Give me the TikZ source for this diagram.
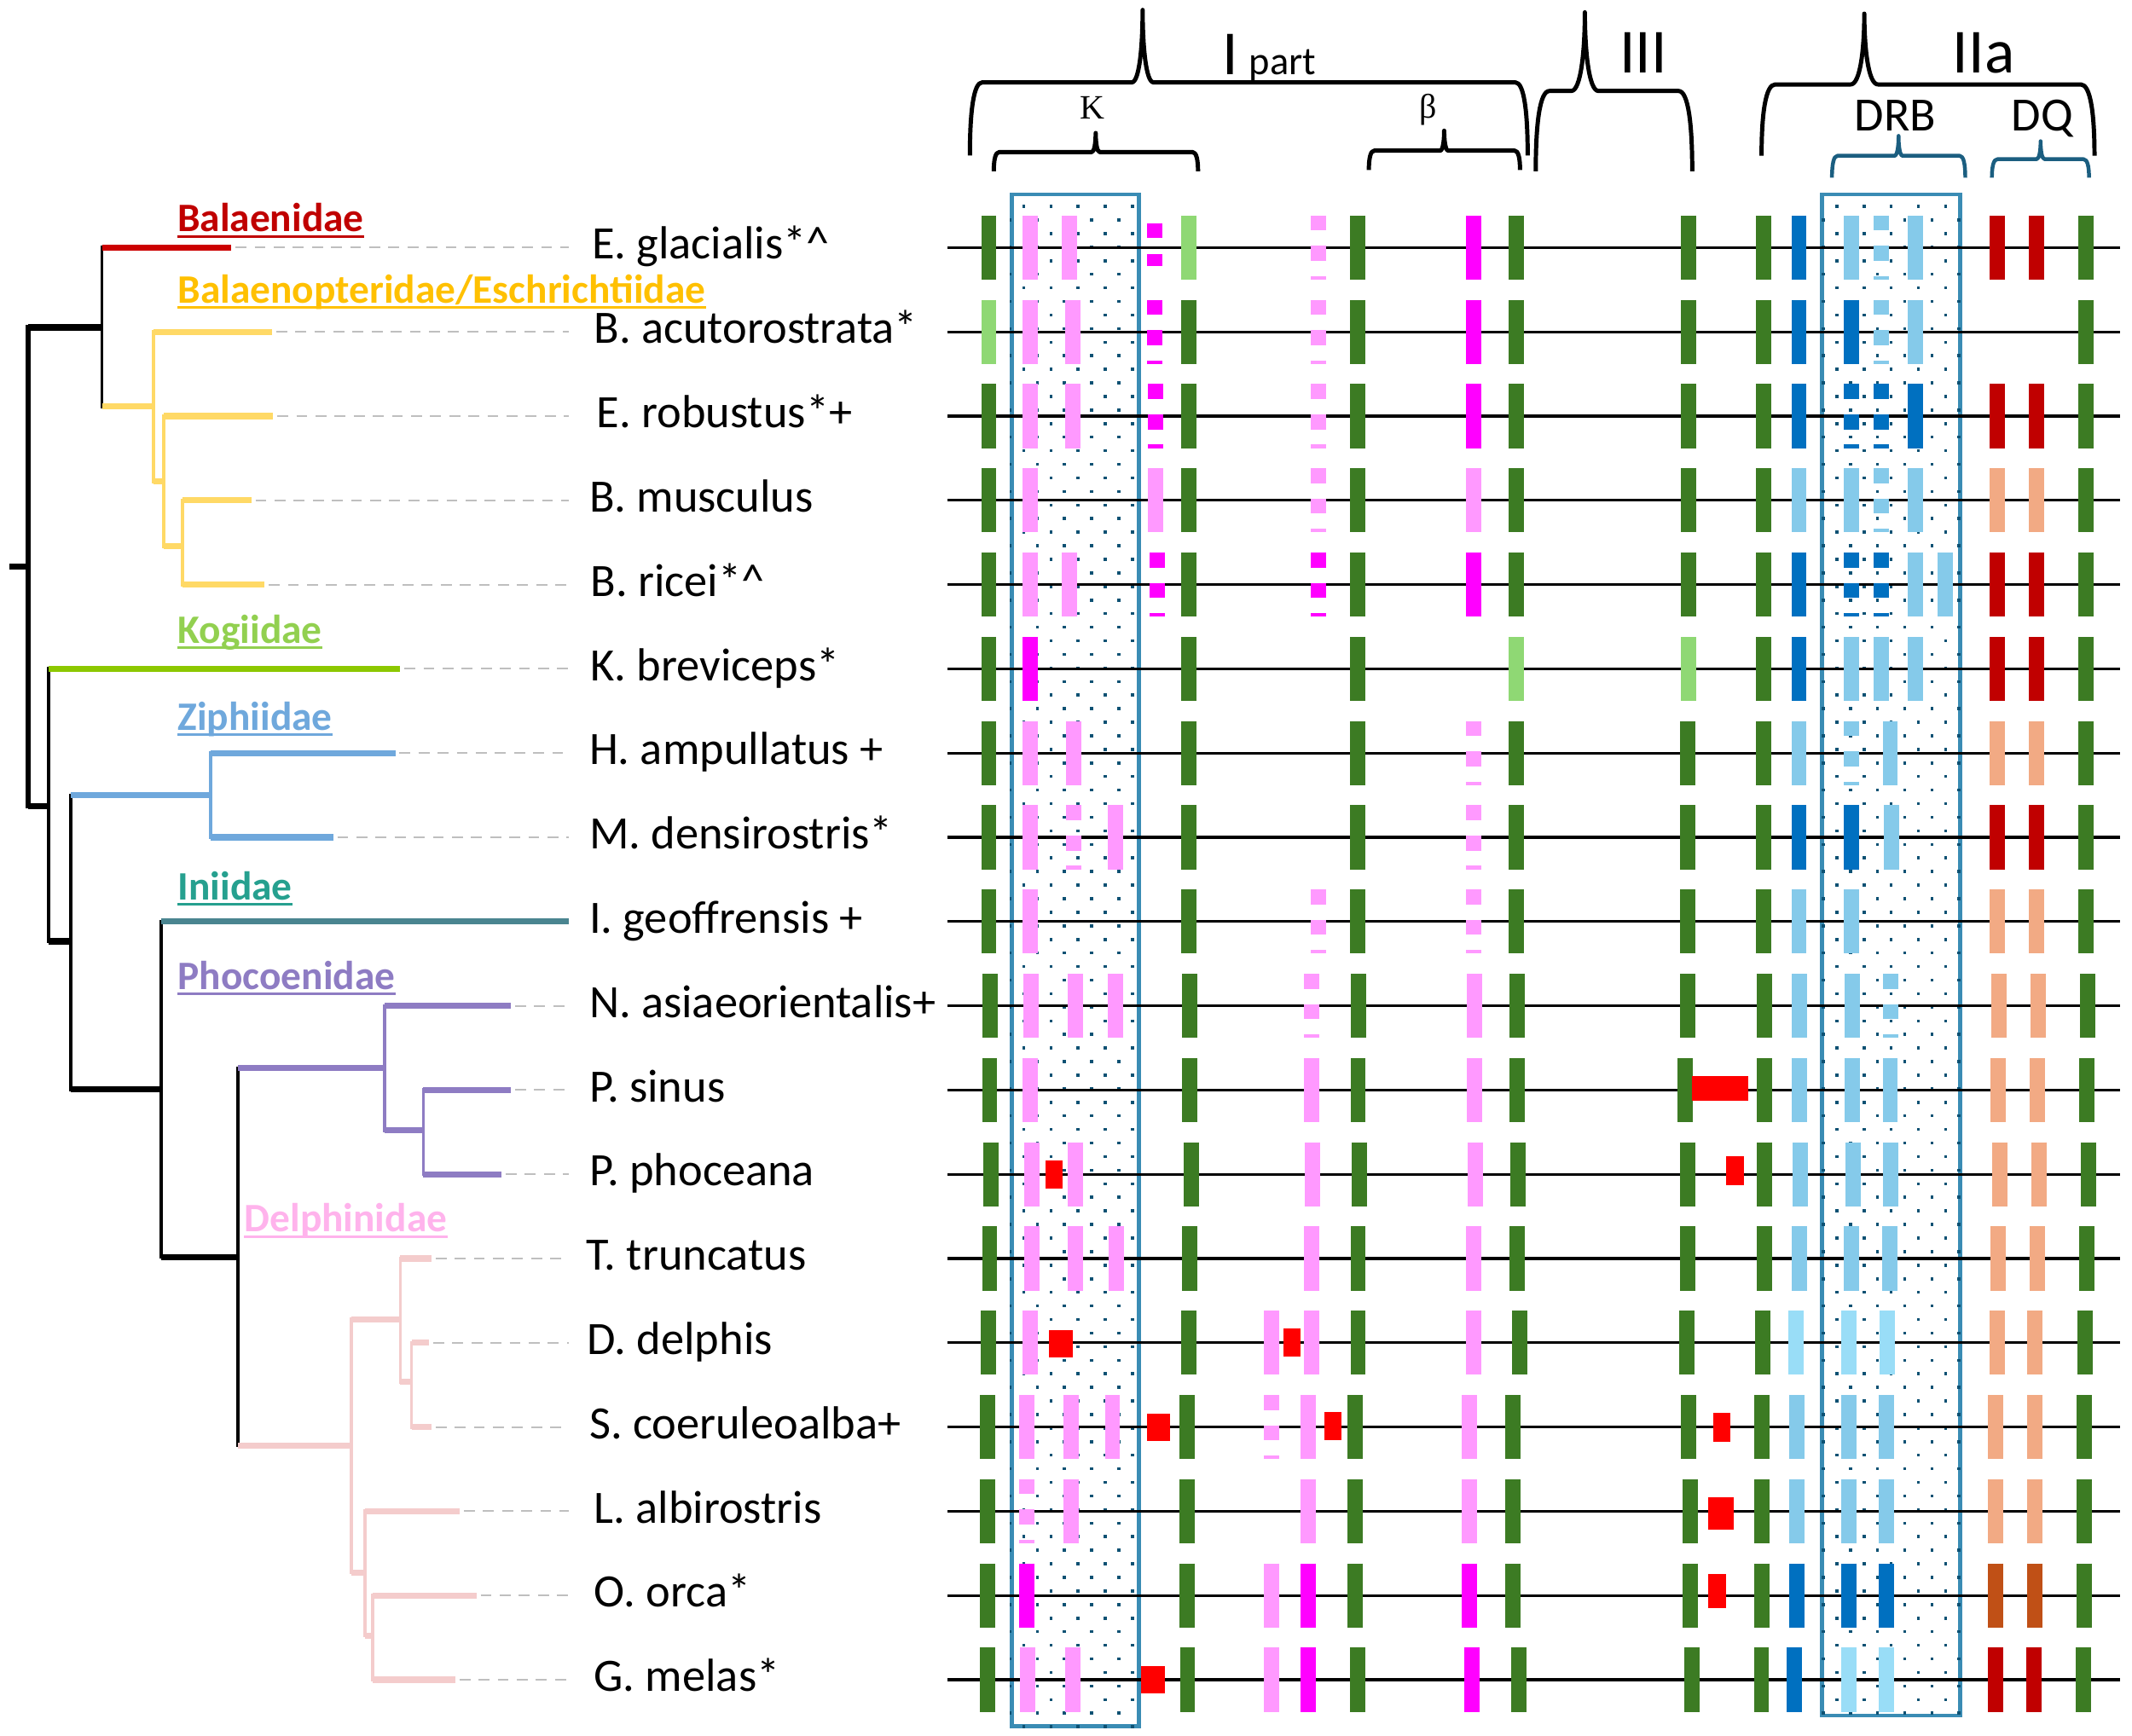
\documentclass[tikz,border=0pt]{standalone}
\usepackage{fontspec}
\setmainfont{Carlito}
\newfontfamily\greekfont{Liberation Serif}
\usetikzlibrary{calc}

% exon colours
\definecolor{colG}{HTML}{3C7B23}
\definecolor{colLG}{HTML}{8FD874}
\definecolor{colP}{HTML}{FF99FF}
\definecolor{colM}{HTML}{FF00FF}
\definecolor{colB}{HTML}{0070C0}
\definecolor{colLB}{HTML}{85CAEA}
\definecolor{colLBB}{HTML}{99DDF7}
\definecolor{colR}{HTML}{C00000}
\definecolor{colS}{HTML}{F2AA84}
\definecolor{colO}{HTML}{C05016}
\definecolor{colMut}{HTML}{FF0000}
\definecolor{colBox}{HTML}{3A8CB4}
\definecolor{colDot}{HTML}{0D5173}
\definecolor{colDRB}{HTML}{1B5E80}
% tree colours
\definecolor{brBal}{HTML}{CC0000}
\definecolor{brBalp}{HTML}{FFD966}
\definecolor{brKog}{HTML}{8CC800}
\definecolor{brZiph}{HTML}{6FA8DC}
\definecolor{brIni}{HTML}{4A8590}
\definecolor{brPhoc}{HTML}{8E7CC3}
\definecolor{brDelph}{HTML}{F4CCCC}
\definecolor{labBal}{HTML}{C00000}
\definecolor{labBalp}{HTML}{FFC000}
\definecolor{labKog}{HTML}{92D050}
\definecolor{labZiph}{HTML}{6FA8DC}
\definecolor{labIni}{HTML}{26A08F}
\definecolor{labPhoc}{HTML}{8E7CC3}
\definecolor{labDelph}{HTML}{FFB3EC}

\newcommand{\clade}[6]{%
  \draw[#4] (#1 |- #2) -- (#1 |- #3);
  \draw[#5] (#1 |- #2) -- (#2);
  \draw[#6] (#1 |- #3) -- (#3);
}
\newcommand{\famlabel}[5]{%
  \node[fam, text=#4] (#1) at (#2,#3) {#5};
  \draw[#4, line width=1pt] ([yshift=-1.75pt]#1.base west) -- ([yshift=-1.75pt]#1.base east);
}
% xl, xtip, xr, ybottom, ymid, ytip, leg, cusp, style
\newcommand{\genebrace}[9]{%
  \draw[#9] (#1,#4) .. controls (#1,{#5+0.4*(#4-#5)}) and ({#1+0.3*#7},#5) .. ({#1+#7},#5)
    -- ({#2-#8},#5) .. controls ({#2-0.3*#8},#5) and (#2,{#5-0.5*(#5-#6)}) .. (#2,#6)
    .. controls (#2,{#5-0.5*(#5-#6)}) and ({#2+0.3*#8},#5) .. ({#2+#8},#5)
    -- ({#3-#7},#5) .. controls ({#3-0.3*#7},#5) and (#3,{#5+0.4*(#4-#5)}) .. (#3,#4);
}

\tikzset{
  hbr/.style={line width=2.2pt},
  vbr/.style={line width=1.2pt, line cap=rect},
  leader/.style={draw=black!25, line width=0.6pt, dash pattern=on 4pt off 3pt},
  fam/.style={anchor=base west, inner sep=0pt, font=\bfseries\fontsize{14.8}{14.8}\selectfont},
  sp/.style={anchor=base west, inner sep=0pt, font=\fontsize{17}{17}\selectfont},
  hdr/.style={inner sep=0pt, font=\fontsize{23}{23}\selectfont},
  sub/.style={inner sep=0pt, anchor=base, font=\fontsize{17.5}{17.5}\selectfont},
  grk/.style={inner sep=0pt, anchor=base, font=\greekfont\fontsize{12.5}{12.5}\selectfont},
  brace/.style={line width=1.55pt, line join=round},
  rowline/.style={line width=1pt, draw=black},
  boxline/.style={line width=1.5pt, draw=colBox},
  boxdot/.style={fill=colDot},
  mut/.style={fill=colMut},
  exon/.style={line width=5.6pt},
  exG/.style={exon, draw=colG},
  exLG/.style={exon, draw=colLG},
  exP/.style={exon, draw=colP},
  exPd/.style={exon, draw=colP, dash pattern=on 5.5pt off 5.6pt},
  exM/.style={exon, draw=colM},
  exMd/.style={exon, draw=colM, dash pattern=on 5.5pt off 5.6pt},
  exMdA/.style={exon, draw=colM, dash pattern=on 0pt off 2.75pt on 5.5pt off 5.8pt on 4.3pt off 20pt},
  exB/.style={exon, draw=colB},
  exBd/.style={exon, draw=colB, dash pattern=on 5.5pt off 5.6pt},
  exLB/.style={exon, draw=colLB},
  exLBd/.style={exon, draw=colLB, dash pattern=on 5.5pt off 5.6pt},
  exLBB/.style={exon, draw=colLBB},
  exR/.style={exon, draw=colR},
  exS/.style={exon, draw=colS},
  exO/.style={exon, draw=colO},
}

\begin{document}
\begin{tikzpicture}[x=0.5pt, y=-0.5pt]
  \useasboundingbox (0,0) rectangle (1562.5,1272.5);

  % ---- tree: inner nodes
  \coordinate (rootStub) at (7,415.5);
  \coordinate (root) at (20.6,415.5);
  \coordinate (nMyst) at (74.7,240);
  \coordinate (nBalp) at (112.3,298);
  \coordinate (nBalp2) at (120,353);
  \coordinate (nBalp3) at (134,400.5);
  \coordinate (nOdon) at (35.8,591);
  \coordinate (nOd2) at (51.8,690);
  \coordinate (nZiph) at (154.5,583);
  \coordinate (nOd3) at (118.3,798.5);
  \coordinate (nOd4) at (174.2,921.5);
  \coordinate (nPhoc) at (282,782.8);
  \coordinate (nPhoc2) at (310.3,828.6);
  \coordinate (nDelph) at (257.6,1059.5);
  \coordinate (nDel2) at (293.4,967);
  \coordinate (nDel3) at (301.6,1013);
  \coordinate (nDel4) at (267.3,1152.8);
  \coordinate (nDel5) at (273.2,1199);
  \coordinate (leadEnd) at (417,0);
  % leaves
  \foreach \nm/\x/\i in {Leglac/169.6/0, Lbacu/199.4/1, Lerob/200.3/2, Lbmus/184.3/3,
      Lbric/194/4, Lkbre/293.4/5, Lhamp/289.7/6, Lmden/244.3/7, Ligeo/417/8,
      Lnasi/374.5/9, Lpsin/374.5/10, Lppho/367.6/11, Lttru/316.3/12, Lddel/314.5/13,
      Lscoe/316.3/14, Llalb/337/15, Loorc/349.3/16, Lgmel/333.7/17}
    \coordinate (\nm) at (\x,{181.5+61.75*\i});

  % ---- tree: branches
  \draw[hbr] (rootStub) -- (root);
  \clade{root}{nMyst}{nOdon}{vbr,line width=1.75pt}{hbr}{hbr}
  \clade{nMyst}{Leglac}{nBalp}{vbr}{hbr,brBal}{hbr,brBalp}
  \clade{nBalp}{Lbacu}{nBalp2}{vbr,brBalp}{hbr,brBalp}{hbr,brBalp}
  \clade{nBalp2}{Lerob}{nBalp3}{vbr,brBalp}{hbr,brBalp}{hbr,brBalp}
  \clade{nBalp3}{Lbmus}{Lbric}{vbr,brBalp}{hbr,brBalp}{hbr,brBalp}
  \clade{nOdon}{Lkbre}{nOd2}{vbr}{hbr,brKog}{hbr}
  \clade{nOd2}{nZiph}{nOd3}{vbr}{hbr,brZiph}{hbr}
  \clade{nZiph}{Lhamp}{Lmden}{vbr,brZiph}{hbr,brZiph}{hbr,brZiph}
  \clade{nOd3}{Ligeo}{nOd4}{vbr}{hbr,brIni}{hbr}
  \clade{nOd4}{nPhoc}{nDelph}{vbr}{hbr,brPhoc}{hbr,brDelph}
  \clade{nPhoc}{Lnasi}{nPhoc2}{vbr,brPhoc}{hbr,brPhoc}{hbr,brPhoc}
  \clade{nPhoc2}{Lpsin}{Lppho}{vbr,brPhoc}{hbr,brPhoc}{hbr,brPhoc}
  \clade{nDelph}{nDel2}{nDel4}{vbr,brDelph}{hbr,brDelph}{hbr,brDelph}
  \clade{nDel2}{Lttru}{nDel3}{vbr,brDelph}{hbr,brDelph}{hbr,brDelph}
  \clade{nDel3}{Lddel}{Lscoe}{vbr,brDelph}{hbr,brDelph}{hbr,brDelph}
  \clade{nDel4}{Llalb}{nDel5}{vbr,brDelph}{hbr,brDelph}{hbr,brDelph}
  \clade{nDel5}{Loorc}{Lgmel}{vbr,brDelph}{hbr,brDelph}{hbr,brDelph}

  % leaders to the names
  \foreach \nm in {Leglac,Lbacu,Lerob,Lbmus,Lbric,Lkbre,Lhamp,Lmden,Lnasi,
      Lpsin,Lppho,Lttru,Lddel,Lscoe,Llalb,Loorc,Lgmel}
    \draw[leader] ([xshift=1.5pt]\nm) -- (leadEnd |- \nm);

  % family labels
  \famlabel{fBal}{129.7}{169.8}{labBal}{Balaenidae}
  \famlabel{fBalp}{130}{222}{labBalp}{Balaenopteridae/Eschrichtiidae}
  \famlabel{fKog}{130}{471.3}{labKog}{Kogiidae}
  \famlabel{fZiph}{130}{535}{labZiph}{Ziphiidae}
  \famlabel{fIni}{130}{659.5}{labIni}{Iniidae}
  \famlabel{fPhoc}{130}{725}{labPhoc}{Phocoenidae}
  \famlabel{fDelph}{178.8}{903}{labDelph}{Delphinidae}

  % species names
  \foreach \i/\x/\nm/\txt in {0/433.5/sEglac/{E. glacialis*\textasciicircum},
      1/435/sBacu/{B. acutorostrata*}, 2/437/sErob/{E. robustus*+},
      3/431.5/sBmus/{B. musculus}, 4/432.5/sBric/{B. ricei*\textasciicircum},
      5/432.5/sKbre/{K. breviceps*}, 6/431.5/sHamp/{H. ampullatus +},
      7/431.5/sMden/{M. densirostris*}, 8/431.5/sIgeo/{I. geoffrensis +},
      9/431.5/sNasi/{N. asiaeorientalis+}, 10/431.5/sPsin/{P. sinus},
      11/431.5/sPpho/{P. phoceana}, 12/429.5/sTtru/{T. truncatus},
      13/430/sDdel/{D. delphis}, 14/431.5/sScoe/{S. coeruleoalba+},
      15/435/sLalb/{L. albirostris}, 16/435/sOorc/{O. orca*}, 17/435/sGmel/{G. melas*}}
    \node[sp] (\nm) at (\x,{181.5+61.75*\i+8.5}) {\txt};

  % ---- gene structures
  \begin{scope}
    % headers
    \genebrace{710.8}{837.4}{1119.6}{114}{60.4}{7.3}{9}{8}{brace}
    \genebrace{1125.5}{1161.5}{1240.2}{125.6}{66.7}{9}{10}{10}{brace}
    \genebrace{1291}{1366.3}{1535}{114.2}{61.9}{10}{10}{10}{brace}
    \genebrace{728.3}{803}{878}{125.6}{111.5}{97.5}{4}{3}{brace}
    \genebrace{1003.2}{1058.4}{1114}{124.6}{110.4}{95.8}{4}{3}{brace}
    \genebrace{1342.6}{1391.4}{1440.3}{130.2}{114.2}{99.6}{4}{3}{brace,draw=colDRB,line width=1.4pt}
    \genebrace{1459.8}{1495.5}{1531}{130.2}{116.7}{103.5}{4}{3}{brace,draw=colDRB,line width=1.4pt}
    \node[hdr, anchor=base west] (hdI) at (895.5,55) {I\hspace{4pt}{\fontsize{14.5}{14.5}\selectfont part}};
    \node[hdr, anchor=base] (hdIII) at (1204.3,53.7) {III};
    \node[hdr, anchor=base] (hdIIa) at (1453.8,53.7) {IIa};
    \node[sub] (hdDRB) at (1389,95.8) {DRB};
    \node[sub] (hdDQ) at (1496.8,95.8) {DQ};
    \node[grk] (hdK) at (800.7,87.5) {Κ};
    \node[grk] (hdB) at (1046.6,86.5) {β};

    % dotted boxes
    \draw[boxline] (741.5,142.5) rectangle (834.5,1265.5);
    \draw[boxline] (1335.5,142.5) rectangle (1436.5,1257.5);
    \begin{scope}
      \clip (740,141) rectangle (836,1267);
      \foreach \j in {0,...,112} {
        \pgfmathsetmacro\dy{151.3+9.95*\j}
        \pgfmathsetmacro\dx{750.3-10*mod(\j,2)}
        \foreach \i in {0,...,4}
          \fill[boxdot] ({\dx+19.9*\i-1.1},{\dy-1.1}) rectangle ++(2.2,2.2);
      }
    \end{scope}
    \begin{scope}
      \clip (1334,141) rectangle (1438,1259);
      \foreach \j in {0,...,111} {
        \pgfmathsetmacro\dy{151.3+9.95*\j}
        \pgfmathsetmacro\dx{1346.2-10*mod(\j,2)}
        \foreach \i in {0,...,5}
          \fill[boxdot] ({\dx+19.9*\i-1.1},{\dy-1.1}) rectangle ++(2.2,2.2);
      }
    \end{scope}

    % rows
    \foreach \r in {0,...,17}
      \draw[rowline] (694.5,{181.5+61.75*\r}) -- (1554,{181.5+61.75*\r});

    \foreach \r/\lst in {
      0/{724.7/exG,755/exP,784/exP,846.5/exMdA,871.5/exLG,966/exPd,994.7/exG,1079.7/exM,1111.5/exG,1237.4/exG,1292.4/exG,1318.4/exB,1356.7/exLB,1378.5/exLBd,1403.6/exLB,1464/exR,1492.5/exR,1529/exG},
      1/{724.7/exLG,755/exP,786/exP,846.5/exMd,871.5/exG,966/exPd,994.7/exG,1079.7/exM,1111.5/exG,1237.4/exG,1292.4/exG,1318.4/exB,1356.7/exB,1378.5/exLBd,1403.6/exLB,1529/exG},
      2/{724.7/exG,755/exP,786/exP,847/exMd,871.5/exG,966/exPd,994.7/exG,1079.7/exM,1111.5/exG,1237.4/exG,1292.4/exG,1318.4/exB,1356.7/exBd,1378.5/exBd,1403.6/exB,1464/exR,1492.5/exR,1529/exG},
      3/{724.7/exG,755/exP,847/exP,871.5/exG,966/exPd,994.7/exG,1079.7/exP,1111.5/exG,1237.4/exG,1292.4/exG,1318.4/exLB,1356.7/exLB,1378.5/exLBd,1403.6/exLB,1464/exS,1492.5/exS,1529/exG},
      4/{724.7/exG,755/exP,784/exP,848/exMd,871.5/exG,966/exMd,994.7/exG,1079.7/exM,1111.5/exG,1237.4/exG,1292.4/exG,1318.4/exB,1356.7/exBd,1378.5/exBd,1403.6/exLB,1425.7/exLB,1464/exR,1492.5/exR,1529/exG},
      5/{724.7/exG,755/exM,871.5/exG,994.7/exG,1111.5/exLG,1237.4/exLG,1292.4/exG,1318.4/exB,1356.7/exLB,1378.5/exLB,1403.6/exLB,1464/exR,1492.5/exR,1529/exG},
      6/{724.7/exG,755/exP,787/exP,871.5/exG,994.7/exG,1080/exPd,1111.5/exG,1237/exG,1292.4/exG,1318.4/exLB,1356.7/exLBd,1385.3/exLB,1464/exS,1492.5/exS,1529/exG},
      7/{724.7/exG,755/exP,787/exPd,817.5/exP,871.5/exG,994.7/exG,1080/exPd,1111.5/exG,1237/exG,1292.4/exG,1318.4/exB,1356.7/exB,1386/exLB,1464/exR,1492.5/exR,1529/exG},
      8/{724.7/exG,755/exP,871.5/exG,966/exPd,994.7/exG,1080/exPd,1111.5/exG,1237/exG,1292.4/exG,1318.4/exLB,1356.7/exLB,1464/exS,1492.5/exS,1529/exG},
      9/{725.6/exG,755.8/exP,788/exP,817.5/exP,872/exG,961/exPd,995.6/exG,1080.7/exP,1112/exG,1236.8/exG,1293/exG,1319/exLB,1357.6/exLB,1385.6/exLBd,1465/exS,1493.5/exS,1530/exG},
      10/{725.3/exG,755/exP,872/exG,961.2/exP,995.3/exG,1080.5/exP,1112/exG,1235.2/exG,1293/exG,1319/exLB,1357.2/exLB,1385.3/exLB,1464.6/exS,1493/exS,1529.6/exG},
      11/{726/exG,756/exP,788/exP,873/exG,962/exP,996/exG,1081/exP,1112.6/exG,1236.8/exG,1293.3/exG,1319.6/exLB,1358/exLB,1385.6/exLB,1465.6/exS,1494.2/exS,1530.6/exG},
      12/{725.3/exG,756/exP,788/exP,818/exP,872/exG,961/exP,995.3/exG,1080/exP,1112/exG,1236.6/exG,1293/exG,1319/exLB,1356.8/exLB,1385/exLB,1464.6/exS,1493/exS,1529.6/exG},
      13/{724.5/exG,755/exP,871/exG,932/exP,961.2/exP,995.3/exG,1080/exP,1114/exG,1236/exG,1292/exG,1316/exLBB,1355/exLBB,1383/exLBB,1463.6/exS,1491.5/exS,1528/exG},
      14/{723.5/exG,752.6/exP,785.1/exP,815.3/exP,870/exG,932/exPd,959/exP,993/exG,1077/exP,1109/exG,1237.2/exG,1291.2/exG,1317/exLB,1355/exLB,1382.3/exLB,1462.6/exS,1491/exS,1527.4/exG},
      15/{723.5/exG,752.6/exPd,785.1/exP,870/exG,959/exP,993/exG,1077/exP,1109/exG,1238.6/exG,1291.2/exG,1317/exLB,1355/exLB,1382.3/exLB,1462.6/exS,1491/exS,1527.4/exG},
      16/{723.5/exG,752.6/exM,870/exG,932/exP,959/exM,993/exG,1077/exM,1109/exG,1238.9/exG,1291.2/exG,1317/exB,1355/exB,1382.3/exB,1462.6/exO,1491/exO,1527.4/exG},
      17/{723.8/exG,753.2/exP,786.2/exP,870.3/exG,932/exP,959/exM,995/exG,1079/exM,1113/exG,1240/exG,1290.9/exG,1314.8/exB,1354.7/exLBB,1382.3/exLBB,1462.6/exR,1490.5/exR,1526.8/exG}} {
      \pgfmathsetmacro\ry{181.5+61.75*\r}
      \foreach \x/\s in \lst
        \draw[\s] (\x,{\ry-23.5}) -- (\x,{\ry+23.5});
    }

    % mutations
    \foreach \r/\xa/\xb/\ya/\yb in {10/1240.2/1281.2/-10/8, 11/766.2/778.7/-10.3/10.6,
        11/1265/1277.9/-13/7.9, 13/769/786.3/-9.4/10.9, 13/940.6/953.1/-10.6/10.1,
        14/840.4/857.4/-9.6/10.1, 14/970.7/983.2/-11.2/9.6, 14/1255.3/1268.1/-10.4/10.6,
        15/1252/1270.6/-10.1/13.2, 16/1252/1264.8/-15.7/9.1, 17/836.2/853.5/-10.1/10.1}
      \fill[mut] (\xa,{181.5+61.75*\r+\ya}) rectangle (\xb,{181.5+61.75*\r+\yb});
  \end{scope}
\end{tikzpicture}
\end{document}
